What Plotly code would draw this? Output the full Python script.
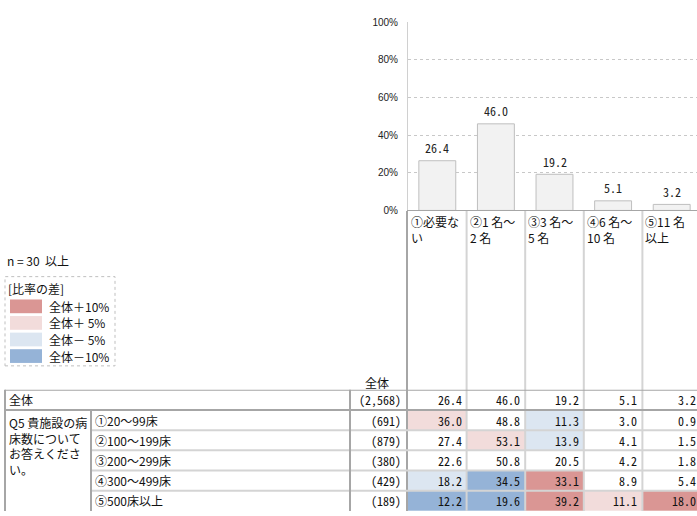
import plotly.graph_objects as go

# ---------------- data ----------------
categories = ["①必要ない", "②1 名～2 名", "③3 名～5 名", "④6 名～10 名", "⑤11 名以上"]
header_labels = ["①必要な<br>い", "②1 名～<br>2 名", "③3 名～<br>5 名", "④6 名～<br>10 名", "⑤11 名<br>以上"]
total_label = "全体"
total_n = "(2,568)"
total_values = [26.4, 46.0, 19.2, 5.1, 3.2]

question_label = "Q5 貴施設の病<br>床数について<br>お答えくださ<br>い。"
row_labels = ["①20～99床", "②100～199床", "③200～299床", "④300～499床", "⑤500床以上"]
row_n = ["(691)", "(879)", "(380)", "(429)", "(189)"]
row_values = [
    [36.0, 48.8, 11.3, 3.0, 0.9],
    [27.4, 53.1, 13.9, 4.1, 1.5],
    [22.6, 50.8, 20.5, 4.2, 1.8],
    [18.2, 34.5, 33.1, 8.9, 5.4],
    [12.2, 19.6, 39.2, 11.1, 18.0],
]
y_ticks = [0, 20, 40, 60, 80, 100]
y_tick_text = ["0%", "20%", "40%", "60%", "80%", "100%"]
legend_title = "[比率の差]"
legend_labels = ["全体＋10%", "全体＋ 5%", "全体－ 5%", "全体－10%"]
n_note = "n = 30  以上"

# ---------------- layout constants (pixels) ----------------
W, H = 697, 516
COL_L = 408.0          # left edge of first data column
CW = 58.6              # data column width
BAR_TOP, BAR_BOT = 17.5, 209.5
TAB_TOP, RH = 392.3, 20.6
FONT = "Noto Sans CJK JP"
NUMFONT = "Noto Sans Mono CJK JP, Noto Sans CJK JP"
C_P10, C_P5, C_M5, C_M10 = "#da9694", "#f2dcdb", "#dce6f1", "#95b3d7"
DARK = "#a6a6a6"
LIGHT = "#d4d4d4"


def px(x):
    return x / W


def py(y):
    return 1 - y / H


xr = [-0.5, -0.5 + (W - COL_L) / CW]
ncat = len(categories)
xs = list(range(ncat))

# classes for heatmap (difference from the total row)
rows_all = [total_values] + row_values
z = []
for r, vals in enumerate(rows_all):
    zr = []
    for c, v in enumerate(vals):
        d = v - total_values[c]
        if r == 0:
            k = 0
        elif d >= 10:
            k = 2
        elif d >= 5:
            k = 1
        elif d <= -10:
            k = -2
        elif d <= -5:
            k = -1
        else:
            k = 0
        zr.append(k)
    z.append(zr)

cscale = [[0, C_M10], [0.125, C_M10], [0.125, C_M5], [0.375, C_M5],
          [0.375, "#ffffff"], [0.625, "#ffffff"], [0.625, C_P5], [0.875, C_P5],
          [0.875, C_P10], [1, C_P10]]

fig = go.Figure()
fig.add_trace(go.Bar(
    x=xs, y=total_values, width=0.63,
    marker=dict(color="#f2f2f2", line=dict(color="#bfbfbf", width=1)),
    xaxis="x", yaxis="y", showlegend=False, hoverinfo="skip",
))
fig.add_trace(go.Heatmap(
    x=xs, y=list(range(len(rows_all))), z=z, zmin=-2, zmax=2,
    colorscale=cscale, showscale=False, xaxis="x2", yaxis="y2", hoverinfo="skip",
))

ann = []
# bar value labels
for i, v in enumerate(total_values):
    ann.append(dict(x=i, y=v, xref="x", yref="y", text=f"{v:.1f}", showarrow=False,
                    yanchor="middle", yshift=13, font=dict(size=12, family=NUMFONT, color="#222")))
# header labels
for i, lab in enumerate(header_labels):
    ann.append(dict(x=i, y=py(210), xref="x", yref="paper", text=lab, showarrow=False,
                    xanchor="left", yanchor="top", align="left", xshift=-CW / 2 + 1,
                    font=dict(size=12, family=FONT, color="#111")))
# table values
for r, vals in enumerate(rows_all):
    for c, v in enumerate(vals):
        ann.append(dict(x=c, y=r, xref="x2", yref="y2", text=f"{v:.1f}", showarrow=False,
                        xanchor="right", yanchor="middle", xshift=CW / 2 - 3,
                        font=dict(size=12, family=NUMFONT, color="#111")))
# n column
for r, n in enumerate([total_n] + row_n):
    ann.append(dict(x=px(403.5), y=r, xref="paper", yref="y2", text=n, showarrow=False,
                    xanchor="right", yanchor="middle", font=dict(size=12, family=NUMFONT, color="#111")))
# row labels
ann.append(dict(x=px(7), y=0, xref="paper", yref="y2", text=total_label, showarrow=False,
                xanchor="left", yanchor="middle", font=dict(size=12, family=FONT, color="#111")))
for r, lab in enumerate(row_labels):
    ann.append(dict(x=px(93), y=r + 1, xref="paper", yref="y2", text=lab, showarrow=False,
                    xanchor="left", yanchor="middle", font=dict(size=12, family=FONT, color="#111")))
ann.append(dict(x=px(7), y=py(415), xref="paper", yref="paper", text=question_label, showarrow=False,
                xanchor="left", yanchor="top", align="left",
                font=dict(size=12, family=FONT, color="#111")))
ann.append(dict(x=px(377), y=py(385), xref="paper", yref="paper", text=total_label, showarrow=False,
                xanchor="center", yanchor="middle", font=dict(size=12, family=FONT, color="#111")))
# note + legend
ann.append(dict(x=px(5), y=py(261), xref="paper", yref="paper", text=n_note, showarrow=False,
                xanchor="left", yanchor="middle", font=dict(size=12, family=FONT, color="#111")))
ann.append(dict(x=px(6), y=py(289), xref="paper", yref="paper", text=legend_title, showarrow=False,
                xanchor="left", yanchor="middle", font=dict(size=12, family=FONT, color="#111")))

shapes = []
leg_cols = [C_P10, C_P5, C_M5, C_M10]
for k, (lab, col) in enumerate(zip(legend_labels, leg_cols)):
    yc = 307.3 + k * 16.9
    shapes.append(dict(type="rect", xref="paper", yref="paper", x0=px(10), x1=px(42),
                       y0=py(yc - 7), y1=py(yc + 7), fillcolor=col, line=dict(width=0)))
    ann.append(dict(x=px(47), y=py(yc), xref="paper", yref="paper", text=lab, showarrow=False,
                    xanchor="left", yanchor="middle", font=dict(size=12, family=FONT, color="#111")))
shapes.append(dict(type="rect", xref="paper", yref="paper", x0=px(5), x1=px(115),
                   y0=py(368), y1=py(277), line=dict(color="#bfbfbf", width=1, dash="dot")))

# vertical column lines in header+table
for i in range(1, ncat + 1):
    shapes.append(dict(type="line", xref="x", yref="paper", x0=i - 0.5, x1=i - 0.5,
                       y0=py(210), y1=0, line=dict(color=LIGHT, width=2)))
shapes.append(dict(type="line", xref="paper", yref="paper", x0=px(COL_L - 1), x1=px(COL_L - 1),
                   y0=py(210), y1=0, line=dict(color=DARK, width=2)))
# horizontal row separators
for r in range(1, len(rows_all)):
    x0 = px(5) if r == 1 else px(91)
    col = DARK if r == 1 else LIGHT
    shapes.append(dict(type="line", xref="paper", yref="y2", x0=x0, x1=1,
                       y0=r - 0.5, y1=r - 0.5, line=dict(color=col, width=2)))
shapes.append(dict(type="line", xref="paper", yref="y2", x0=px(5), x1=1,
                   y0=-0.5, y1=-0.5, line=dict(color=DARK, width=2)))
# table vertical separators on the left part
shapes.append(dict(type="line", xref="paper", yref="paper", x0=px(5), x1=px(5),
                   y0=py(TAB_TOP), y1=0, line=dict(color=DARK, width=2)))
shapes.append(dict(type="line", xref="paper", yref="paper", x0=px(91), x1=px(91),
                   y0=py(TAB_TOP + RH), y1=0, line=dict(color=DARK, width=2)))
shapes.append(dict(type="line", xref="paper", yref="paper", x0=px(350), x1=px(350),
                   y0=py(TAB_TOP), y1=0, line=dict(color=DARK, width=2)))

fig.update_layout(
    width=W, height=H, margin=dict(l=0, r=0, t=0, b=0),
    paper_bgcolor="white", plot_bgcolor="white",
    xaxis=dict(domain=[px(COL_L), 1], range=xr, showticklabels=False, ticks="",
               showgrid=False, zeroline=False, showline=True, linecolor=DARK, linewidth=1,
               anchor="y", fixedrange=True),
    yaxis=dict(domain=[py(BAR_BOT), py(BAR_TOP)], range=[0, 100], tickmode="array",
               tickvals=y_ticks, ticktext=y_tick_text,
               showgrid=True, gridcolor="#c8c8c8", griddash="dot", gridwidth=1,
               zeroline=False, showline=True, linecolor="#d0d0d0", linewidth=1, ticks="",
               ticklabelstandoff=7,
               tickfont=dict(size=10, family="Liberation Sans, Arial", color="#222"),
               anchor="x", fixedrange=True),
    xaxis2=dict(domain=[px(COL_L), 1], range=xr, showticklabels=False, ticks="",
                showgrid=False, zeroline=False, showline=False, anchor="y2", fixedrange=True),
    yaxis2=dict(domain=[0, py(TAB_TOP)], range=[len(rows_all) - 0.5, -0.5], showticklabels=False,
                ticks="", showgrid=False, zeroline=False, showline=False, anchor="x2", fixedrange=True),
    annotations=ann, shapes=shapes, showlegend=False,
)

fig.write_html("out.html", config={"displayModeBar": False},
               post_script="document.body.style.margin='0';document.body.style.overflow='hidden';")
